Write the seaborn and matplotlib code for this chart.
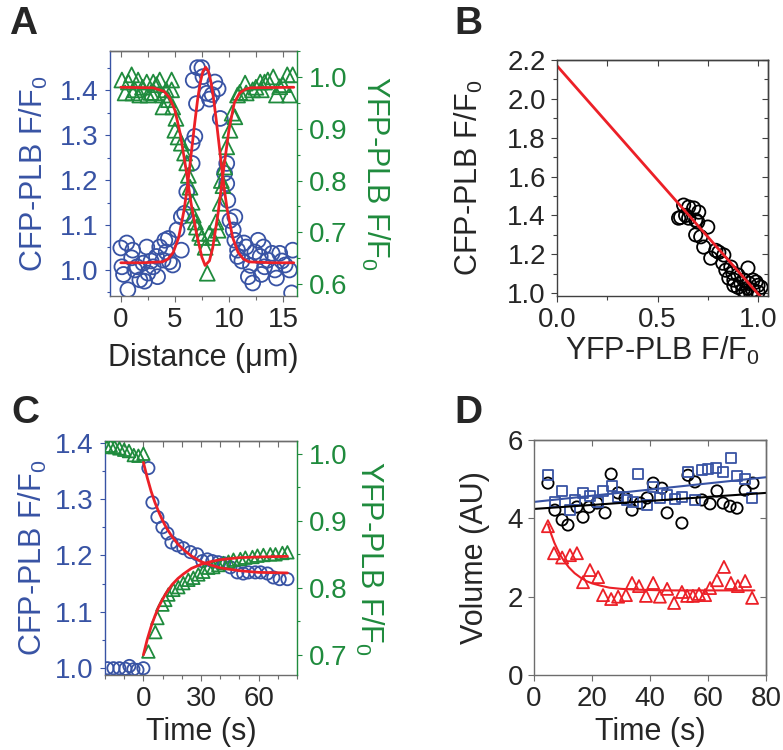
import numpy as np
import pandas as pd
import seaborn as sns
import matplotlib.pyplot as plt
from matplotlib.ticker import MultipleLocator, FormatStrFormatter

# colours
BLUE = '#3853a4'
GREEN = '#1f8b3d'
RED = '#ec2027'
GRAY = '#6d6d6d'
DARK = '#404040'

# ---- panel A: line scan across the cell ----
a_cfp_x = [0.0, 0.1, 0.25, 0.55, 0.65, 1.0, 1.1, 1.5, 1.76, 2.05, 2.4, 2.5, 3.0, 3.3, 3.4,
           3.6, 3.9, 4.07, 4.4, 4.5, 4.8, 5.2, 5.6, 5.6, 5.9, 6.1, 6.6, 6.6, 6.85, 7.0,
           6.7, 7.1, 7.5, 7.6, 7.96, 8.2, 8.7, 9.0, 9.2, 9.8, 9.6, 9.8, 9.9, 10.1, 10.55,
           10.4, 10.55, 10.8, 10.8, 11.6, 11.8, 12.2, 12.4, 12.7, 12.9, 13.2, 13.3, 13.6, 14.0, 14.25,
           14.4, 14.7, 15.2, 15.6, 15.8, 15.9, 1.3, 2.2, 2.8, 4.2, 11.2, 12.0, 13.0, 14.9, 11.4, 8.45]
a_cfp_y = [1.049, 1.007, 0.99, 1.06, 0.956, 1.027, 1.044, 1.007, 0.978, 1.015, 1.051, 0.993, 1.007, 1.03, 0.985,
           1.051, 1.022, 1.066, 1.07, 1.018, 1.011, 1.089, 1.044, 1.118, 1.126, 1.174, 1.237, 1.282, 1.297, 1.37,
           1.422, 1.45, 1.45, 1.43, 1.393, 1.38, 1.418, 1.403, 1.337, 1.237, 1.215, 1.192, 1.155, 1.11, 1.118,
           1.089, 1.066, 1.044, 1.03, 1.051, 0.985, 0.971, 1.04, 1.066, 1.03, 1.051, 1.007, 1.022, 1.037, 1.0,
           0.982, 1.037, 1.011, 1.0, 0.949, 1.044, 1.0, 0.975, 1.02, 1.04, 1.02, 1.01, 0.99, 1.02, 1.06, 1.39]

a_yfp_x = [0.1, 0.4, 1.0, 1.1, 1.6, 1.76, 2.4, 2.5, 3.0, 3.1, 3.6, 3.9, 4.7, 3.9, 4.4,
           4.8, 4.7, 5.0, 5.3, 5.6, 5.9, 6.1, 6.4, 6.6, 6.7, 7.0, 7.3, 7.8, 8.0, 8.2,
           9.0, 9.2, 9.3, 9.6, 9.8, 10.1, 10.55, 10.8, 11.5, 11.6, 12.2, 12.9, 13.0, 13.6, 14.1,
           14.4, 14.7, 15.4, 15.6, 15.9, 0.7, 1.3, 2.0, 2.8, 3.3, 4.2, 5.1, 6.25, 6.9, 7.5,
           8.5, 8.8, 9.45, 10.3, 11.0, 12.5, 13.3, 15.0]
a_yfp_y = [0.994, 0.969, 1.004, 0.969, 0.994, 0.965, 0.99, 0.965, 0.99, 0.969, 0.994, 0.965, 0.994, 0.942, 0.956,
           0.942, 0.975, 0.897, 0.884, 0.872, 0.853, 0.834, 0.787, 0.758, 0.733, 0.71, 0.698, 0.671, 0.621, 0.698,
           0.704, 0.756, 0.8, 0.826, 0.865, 0.897, 0.923, 0.965, 0.988, 0.969, 0.975, 0.99, 0.975, 0.994, 1.0,
           0.965, 0.981, 1.004, 0.965, 1.004, 0.99, 0.975, 0.98, 0.97, 0.985, 0.975, 0.92, 0.81, 0.72, 0.69,
           0.69, 0.72, 0.79, 0.93, 0.97, 0.98, 0.99, 0.985]

# fitted curves
a_cfp_fit_x = [0.0, 2.0, 3.85, 4.35, 4.85, 5.35, 5.85, 6.1, 6.35, 6.6, 6.85, 7.1, 7.35, 7.6, 7.85,
               8.1, 8.35, 8.6, 8.85, 9.1, 9.35, 9.6, 9.85, 10.35, 10.85, 11.35, 11.85, 14.0, 16.0]
a_cfp_fit_y = [1.016, 1.016, 1.018, 1.024, 1.039, 1.072, 1.133, 1.175, 1.224, 1.277, 1.329, 1.378, 1.417, 1.442, 1.451,
               1.442, 1.417, 1.378, 1.329, 1.277, 1.224, 1.175, 1.133, 1.072, 1.039, 1.024, 1.018, 1.016, 1.016]
a_yfp_fit_x = [0.0, 3.0, 4.0, 4.5, 5.0, 5.5, 6.0, 6.5, 7.0, 7.5, 7.8, 8.2, 8.5, 9.0, 9.5, 10.0, 10.5, 11.0, 11.5, 12.0, 16.0]
a_yfp_fit_y = [0.98, 0.979, 0.972, 0.96, 0.936, 0.89, 0.826, 0.756, 0.698, 0.652, 0.636, 0.645, 0.67, 0.737, 0.82,
               0.897, 0.95, 0.969, 0.976, 0.979, 0.98]

# ---- panel B: CFP vs YFP ----
b_x = [0.63, 0.655, 0.68, 0.705, 0.615, 0.605, 0.64, 0.655, 0.69, 0.70, 0.75, 0.69, 0.715, 0.73, 0.765,
       0.79, 0.805, 0.83, 0.825, 0.84, 0.865, 0.855, 0.88, 0.875, 0.9, 0.915, 0.95, 0.93, 0.955, 0.975,
       1.0, 0.99, 0.9, 0.925, 0.95, 0.975, 1.0, 1.015, 0.94, 0.965, 0.88]
b_y = [1.453, 1.443, 1.438, 1.417, 1.39, 1.386, 1.40, 1.386, 1.376, 1.366, 1.34, 1.30, 1.29, 1.237, 1.18,
       1.22, 1.21, 1.196, 1.154, 1.118, 1.134, 1.077, 1.067, 1.103, 1.093, 1.05, 1.129, 1.067, 1.05, 1.067,
       1.04, 1.057, 1.03, 1.015, 1.026, 1.015, 1.005, 1.03, 1.0, 0.995, 1.04]
b_fit_x = [0.0, 1.02]
b_fit_y = [2.17, 0.973]

# ---- panel C: time course ----
c_cfp_t = [-18.7, -15.6, -12.5, -9.4, -7.3, -5.2, -3.1, 0.0, 2.6, 4.7, 7.3, 9.9, 12.5, 14.6, 17.7,
           20.8, 24.5, 28.0, 30.7, 33.3, 35.9, 39.0, 42.0, 45.3, 48.9, 52.0, 54.7, 58.3, 61.0, 64.6,
           67.7, 71.0, 75.0]
c_cfp_v = [1.0, 1.0, 1.0, 0.999, 1.004, 0.998, 0.997, 1.0, 1.355, 1.294, 1.268, 1.25, 1.239, 1.223, 1.218,
           1.213, 1.206, 1.202, 1.19, 1.193, 1.19, 1.188, 1.186, 1.179, 1.17, 1.168, 1.17, 1.17, 1.17, 1.168,
           1.161, 1.158, 1.158]
c_yfp_t = [-19.0, -17.0, -15.0, -12.5, -10.0, -7.5, -5.0, -2.6, 0.0, 2.6, 6.2, 7.3, 9.9, 11.4, 13.0,
           15.6, 18.2, 20.8, 23.4, 26.0, 28.6, 31.2, 33.8, 36.4, 39.0, 41.7, 44.3, 46.9, 50.5, 53.1,
           56.8, 59.4, 62.5, 66.1, 68.8, 72.4, 75.0]
c_yfp_v = [1.01, 1.012, 1.01, 1.008, 1.006, 1.004, 0.998, 0.997, 1.0, 0.705, 0.734, 0.755, 0.775, 0.782, 0.79,
           0.797, 0.801, 0.807, 0.812, 0.815, 0.82, 0.824, 0.83, 0.831, 0.834, 0.837, 0.839, 0.842, 0.843, 0.845,
           0.846, 0.848, 0.849, 0.85, 0.85, 0.852, 0.853]
c_cfp_fit_t = [0, 2, 4, 6, 8, 10, 12, 15, 18, 21, 25, 30, 35, 40, 50, 60, 75]
c_cfp_fit_v = [1.365, 1.338, 1.314, 1.294, 1.277, 1.262, 1.249, 1.233, 1.22, 1.21, 1.199, 1.189, 1.183, 1.178,
               1.173, 1.17, 1.169]
c_yfp_fit_t = [0, 2, 4, 6, 8, 10, 12, 15, 18, 21, 25, 30, 35, 40, 50, 60, 75]
c_yfp_fit_v = [0.70, 0.723, 0.742, 0.758, 0.772, 0.783, 0.793, 0.805, 0.814, 0.821, 0.829, 0.835, 0.839, 0.842,
               0.845, 0.846, 0.847]

# ---- panel D: volume ----
d_sq_t = [4.8, 7.2, 9.7, 12.4, 14.1, 16.9, 19.3, 22.1, 23.8, 26.9, 29.0, 32.0, 34.1, 35.9, 39.0,
          41.1, 43.4, 45.9, 48.6, 51.0, 53.1, 55.5, 57.9, 60.0, 62.8, 65.2, 67.9, 70.0, 72.8, 75.2]
d_sq_v = [5.1, 4.42, 4.7, 4.21, 4.47, 4.65, 4.57, 4.42, 4.7, 4.83, 4.54, 4.47, 4.42, 5.13, 4.34,
          4.8, 4.52, 4.6, 4.5, 4.55, 5.18, 4.47, 5.23, 5.26, 5.28, 5.18, 5.54, 5.08, 5.0, 4.52]
d_ci_t = [4.8, 7.2, 9.7, 11.7, 14.8, 16.9, 19.0, 21.7, 24.5, 26.6, 29.0, 31.4, 33.8, 36.6, 39.0,
          41.1, 44.1, 45.9, 51.0, 53.1, 55.5, 57.9, 60.7, 63.1, 65.2, 67.6, 70.0, 72.8, 75.5]
d_ci_v = [4.9, 4.21, 3.96, 3.83, 4.29, 4.03, 4.29, 4.39, 4.14, 5.13, 4.65, 4.52, 4.21, 4.39, 4.52,
          4.9, 4.77, 4.14, 3.88, 5.1, 4.93, 4.47, 4.37, 4.7, 4.39, 4.31, 4.26, 4.72, 4.9]
d_tr_t = [4.8, 6.9, 9.7, 12.4, 14.8, 16.9, 19.3, 22.1, 23.8, 26.6, 29.0, 31.7, 33.8, 36.2, 38.6,
          41.1, 43.4, 45.9, 48.3, 51.0, 52.8, 54.8, 56.9, 59.0, 60.7, 63.1, 65.5, 67.9, 70.3, 72.8, 75.2]
d_tr_v = [3.8, 3.11, 3.0, 3.06, 3.11, 2.37, 2.68, 2.5, 2.04, 1.94, 2.0, 2.04, 2.35, 2.27, 2.02,
          2.35, 2.0, 2.2, 1.84, 2.12, 2.02, 2.02, 2.07, 2.04, 2.22, 2.42, 2.76, 2.35, 2.27, 2.4, 1.97]
d_sq_fit_t = [0, 80]
d_sq_fit_v = [4.42, 5.05]
d_ci_fit_t = [0, 80]
d_ci_fit_v = [4.24, 4.65]
d_tr_fit_t = [4.8, 6, 7, 8, 9, 10, 12, 14, 16, 18, 20, 23, 26, 30, 35, 45, 60, 76]
d_tr_fit_v = [3.85, 3.58, 3.38, 3.22, 3.07, 2.95, 2.75, 2.6, 2.49, 2.4, 2.34, 2.28, 2.23, 2.2, 2.18, 2.16, 2.16, 2.16]

sns.set_theme(style='ticks')
plt.rcParams['font.family'] = ['Liberation Sans', 'DejaVu Sans']
plt.rcParams['mathtext.fontset'] = 'custom'
plt.rcParams['mathtext.rm'] = 'Liberation Sans'
plt.rcParams['mathtext.it'] = 'Liberation Sans:italic'
plt.rcParams['axes.linewidth'] = 1.0

TICK = 20
LAB = 22

fig = plt.figure(figsize=(7.83, 7.5), dpi=100)


def open_pts(ax, x, y, marker, color, s, **kw):
    sns.scatterplot(x=x, y=y, ax=ax, marker=marker, s=s, facecolors='none',
                    edgecolor=color, linewidth=1.3, **kw)


def inner_ticks(ax, which, major, minor=None, color=GRAY):
    if which == 'top':
        sec = ax.secondary_xaxis('top')
        axis = sec.xaxis
        sec.tick_params(axis='x', which='both', direction='in', labeltop=False, color=color, width=0.8)
    else:
        sec = ax.secondary_yaxis('right')
        axis = sec.yaxis
        sec.tick_params(axis='y', which='both', direction='in', labelright=False, color=color, width=0.8)
    axis.set_major_locator(MultipleLocator(major))
    if minor:
        axis.set_minor_locator(MultipleLocator(minor))
    sec.tick_params(which='major', length=4)
    sec.tick_params(which='minor', length=3)
    for sp in sec.spines.values():
        sp.set_color(color)
    return sec


def dual_panel(rect, xl, yl_left, yl_right, xmaj, xmin, left_x, right_x, xlab, xlab_y):
    ax = fig.add_axes(rect)
    ax2 = ax.twinx()
    ax.set_xlim(*xl)
    ax.set_ylim(*yl_left)
    ax2.set_ylim(*yl_right)
    ax.xaxis.set_major_locator(MultipleLocator(xmaj))
    ax.xaxis.set_minor_locator(MultipleLocator(xmin))
    for a in (ax, ax2):
        a.yaxis.set_major_locator(MultipleLocator(0.1))
        a.yaxis.set_minor_locator(MultipleLocator(0.05))
        a.yaxis.set_major_formatter(FormatStrFormatter('%.1f'))
    ax.tick_params(axis='x', which='both', labelsize=TICK, color=GRAY, width=0.8, pad=4)
    ax.tick_params(axis='x', which='major', length=4)
    ax.tick_params(axis='x', which='minor', length=3)
    ax.tick_params(axis='y', which='both', labelsize=TICK, colors=BLUE, width=0.8, pad=5)
    ax.tick_params(axis='y', which='major', length=3.5)
    ax.tick_params(axis='y', which='minor', length=2.5)
    ax2.tick_params(axis='y', which='both', labelsize=TICK, colors=GREEN, width=0.8, pad=5)
    ax2.tick_params(axis='y', which='major', length=3.5)
    ax2.tick_params(axis='y', which='minor', length=2.5)
    ax.spines['left'].set_color(BLUE)
    ax.spines['right'].set_visible(False)
    ax.spines['top'].set_color(GRAY)
    ax.spines['bottom'].set_color(GRAY)
    for k in ('left', 'top', 'bottom'):
        ax2.spines[k].set_visible(False)
    ax2.spines['right'].set_color(GREEN)
    ax.set_ylabel('CFP-PLB F/F$_0$', color=BLUE, fontsize=LAB)
    ax.yaxis.set_label_coords(left_x, 0.5)
    ax2.set_ylabel('YFP-PLB F/F$_0$', color=GREEN, fontsize=LAB, rotation=270, va='bottom')
    ax2.yaxis.set_label_coords(right_x, 0.5)
    ax.set_xlabel(xlab, fontsize=LAB)
    ax.xaxis.set_label_coords(0.5, xlab_y)
    inner_ticks(ax, 'top', xmin)
    return ax, ax2


# ---- A ----
axA, axA2 = dual_panel([0.1405, 0.6053, 0.2388, 0.3267], (-1, 16.3), (0.942, 1.487), (0.577, 1.05),
                       5, 2.5, -0.32, 1.33, 'Distance (μm)', -0.19)
open_pts(axA, a_cfp_x, a_cfp_y, 'o', BLUE, 115)
open_pts(axA2, a_yfp_x, a_yfp_y, '^', GREEN, 115)
sns.lineplot(x=a_yfp_fit_x, y=a_yfp_fit_y, ax=axA2, color=RED, linewidth=2)
sns.lineplot(x=a_cfp_fit_x, y=a_cfp_fit_y, ax=axA2, color=RED, linewidth=2, transform=axA.transData)
axA.set_ylim(0.942, 1.487)
axA2.set_ylim(0.577, 1.05)

# ---- B ----
axB = fig.add_axes([0.7114, 0.6053, 0.2695, 0.3147])
open_pts(axB, b_x, b_y, 'o', 'black', 92)
sns.lineplot(x=b_fit_x, y=b_fit_y, ax=axB, color=RED, linewidth=2)
axB.set_xlim(0, 1.05)
axB.set_ylim(0.985, 2.2)
axB.xaxis.set_major_locator(MultipleLocator(0.5))
axB.xaxis.set_minor_locator(MultipleLocator(0.25))
axB.yaxis.set_major_locator(MultipleLocator(0.2))
axB.yaxis.set_minor_locator(MultipleLocator(0.1))
axB.xaxis.set_major_formatter(FormatStrFormatter('%.1f'))
axB.yaxis.set_major_formatter(FormatStrFormatter('%.1f'))
axB.tick_params(which='both', labelsize=TICK, color=DARK, width=0.8, pad=4)
axB.tick_params(which='major', length=4)
axB.tick_params(which='minor', length=3)
for sp in axB.spines.values():
    sp.set_color(DARK)
inner_ticks(axB, 'top', 0.25, color=DARK)
inner_ticks(axB, 'right', 0.2, 0.1, color=DARK)
axB.set_ylabel('CFP-PLB F/F$_0$', fontsize=LAB)
axB.yaxis.set_label_coords(-0.34, 0.5)
axB.set_xlabel('YFP-PLB F/F$_0$', fontsize=LAB)
axB.xaxis.set_label_coords(0.5, -0.165)

# ---- C ----
axC, axC2 = dual_panel([0.1341, 0.1, 0.2452, 0.312], (-20, 80), (0.988, 1.403), (0.67, 1.019),
                       30, 10, -0.29, 1.29, 'Time (s)', -0.18)
open_pts(axC, c_cfp_t, c_cfp_v, 'o', BLUE, 78)
open_pts(axC2, c_yfp_t, c_yfp_v, '^', GREEN, 82)
sns.lineplot(x=c_yfp_fit_t, y=c_yfp_fit_v, ax=axC2, color=RED, linewidth=2)
sns.lineplot(x=c_cfp_fit_t, y=c_cfp_fit_v, ax=axC2, color=RED, linewidth=2, transform=axC.transData)
axC.set_ylim(0.988, 1.403)
axC2.set_ylim(0.67, 1.019)
axC.set_xlim(-20, 80)

# ---- D ----
axD = fig.add_axes([0.682, 0.1, 0.2963, 0.3133])
open_pts(axD, d_ci_t, d_ci_v, 'o', 'black', 66)
open_pts(axD, d_sq_t, d_sq_v, 's', BLUE, 50)
open_pts(axD, d_tr_t, d_tr_v, '^', RED, 75)
sns.lineplot(x=d_sq_fit_t, y=d_sq_fit_v, ax=axD, color=BLUE, linewidth=1.5)
sns.lineplot(x=d_ci_fit_t, y=d_ci_fit_v, ax=axD, color='black', linewidth=1.5)
sns.lineplot(x=d_tr_fit_t, y=d_tr_fit_v, ax=axD, color=RED, linewidth=1.5)
axD.set_xlim(0, 80)
axD.set_ylim(0, 6)
axD.xaxis.set_major_locator(MultipleLocator(20))
axD.yaxis.set_major_locator(MultipleLocator(2))
axD.tick_params(which='major', labelsize=TICK, color=GRAY, width=0.8, length=4, pad=4)
for sp in axD.spines.values():
    sp.set_color(GRAY)
inner_ticks(axD, 'top', 20)
inner_ticks(axD, 'right', 2)
axD.set_ylabel('Volume (AU)', fontsize=LAB)
axD.yaxis.set_label_coords(-0.19, 0.5)
axD.set_xlabel('Time (s)', fontsize=LAB)
axD.xaxis.set_label_coords(0.5, -0.18)

# panel letters
for lx, ly, letter in [(0.012, 0.992, 'A'), (0.58, 0.992, 'B'), (0.014, 0.473, 'C'), (0.58, 0.473, 'D')]:
    fig.text(lx, ly, letter, fontsize=28, fontweight='bold', va='top', ha='left')

fig.savefig('out.png', dpi=100)
